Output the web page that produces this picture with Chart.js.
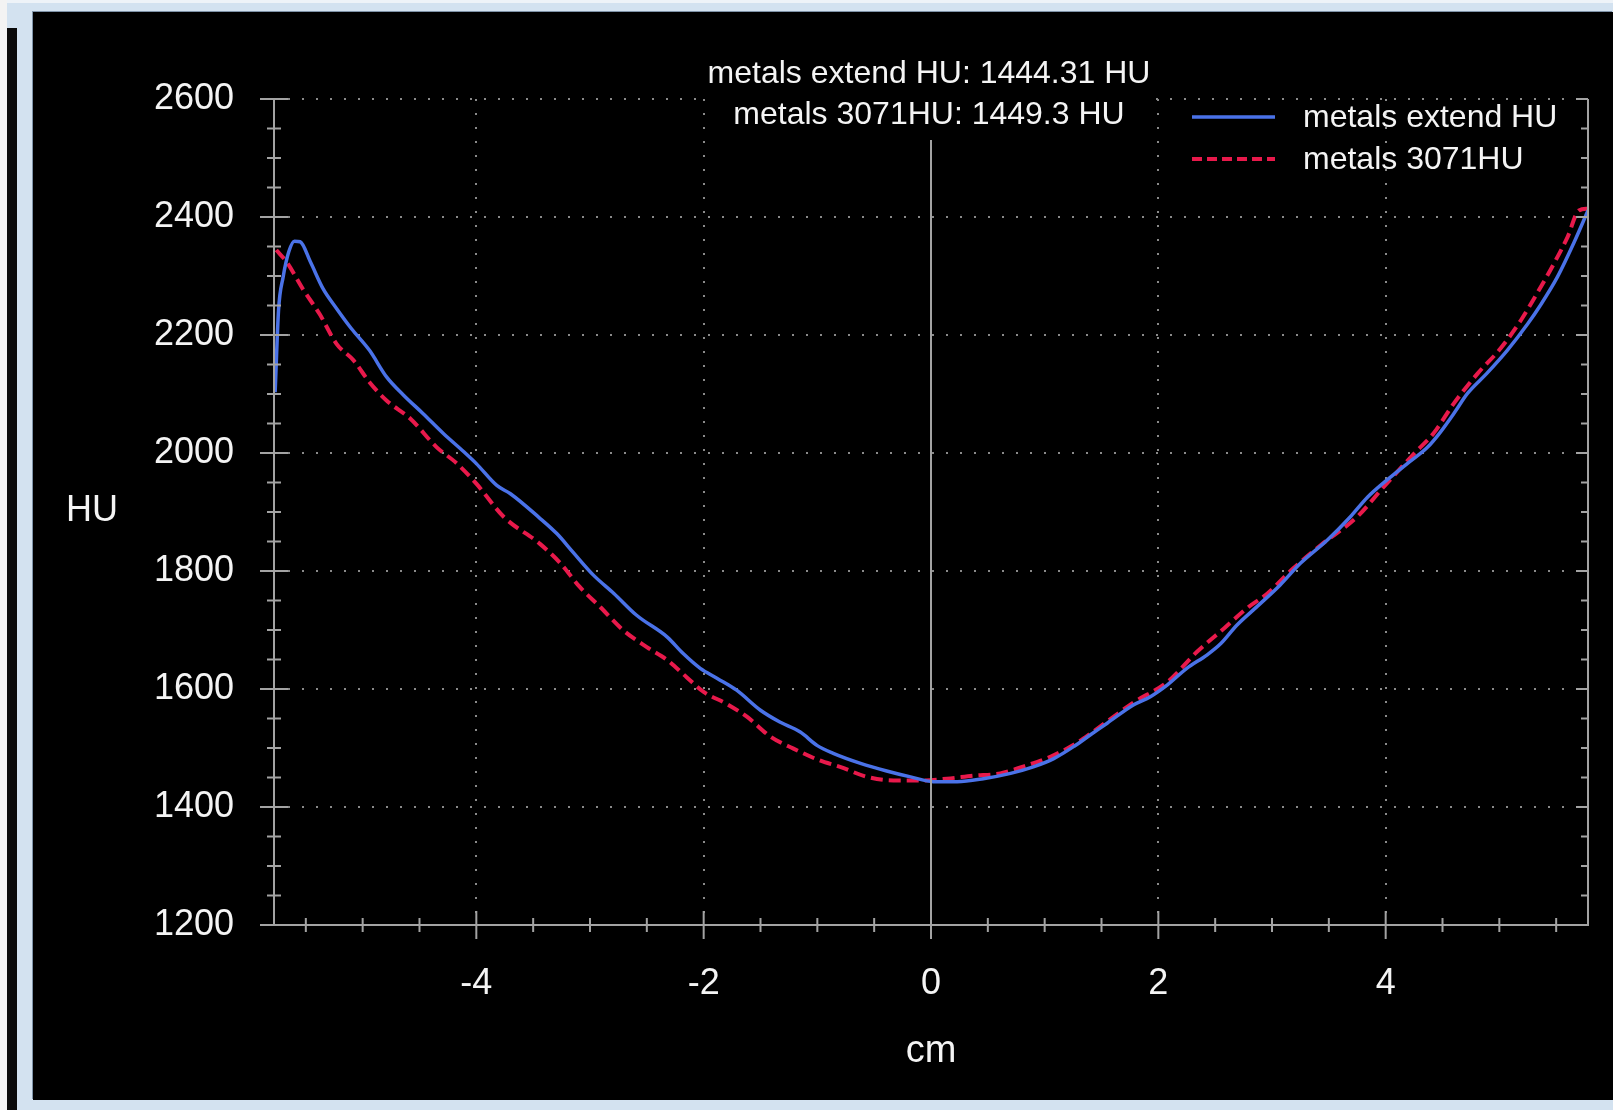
<!DOCTYPE html>
<html><head><meta charset="utf-8">
<script src="https://cdn.jsdelivr.net/npm/chart.js@4.4.1/dist/chart.umd.min.js"></script>
<style>
html,body{margin:0;padding:0;width:1613px;height:1110px;overflow:hidden;background:#d3e2f0;}
.blk{position:absolute;}
#c{position:absolute;left:0;top:0;}
</style></head><body>
<div class="blk" style="left:0;top:0;width:1613px;height:3px;background:#eef3f8"></div>
<div class="blk" style="left:0;top:0;width:7px;height:1110px;background:#f3f3f3"></div>
<div class="blk" style="left:7px;top:28px;width:10px;height:1082px;background:#0a0a0a"></div>
<div class="blk" style="left:33px;top:12px;width:1580px;height:1088px;background:#000;box-shadow:-1px -1px 0 #7f93a8"></div>
<canvas id="c" width="1613" height="1110"></canvas>
<script>
// ---- data ----
const seriesNames = ['metals extend HU', 'metals 3071HU'];
const annotationLines = ['metals extend HU: 1444.31 HU', 'metals 3071HU: 1449.3 HU'];
const xTitle = 'cm';
const yTitle = 'HU';
const xTickValues = [-4, -2, 0, 2, 4];
const yTickValues = [1200, 1400, 1600, 1800, 2000, 2200, 2400, 2600];
const xRange = [-5.78, 5.78];
const yRange = [1200, 2600];

const extendX = [-5.77, -5.74, -5.70, -5.65, -5.60, -5.55, -5.46, -5.35, -5.23, -5.10, -4.94, -4.79, -4.64, -4.47, -4.29, -4.11, -4.00, -3.82, -3.70, -3.45, -3.29, -3.15, -2.97, -2.79, -2.59, -2.32, -2.18, -2.03, -1.88, -1.71, -1.50, -1.33, -1.15, -1.00, -0.86, -0.62, -0.39, -0.18, 0.02, 0.23, 0.46, 0.70, 0.90, 1.08, 1.26, 1.40, 1.55, 1.78, 1.93, 2.08, 2.25, 2.43, 2.55, 2.69, 2.87, 3.07, 3.25, 3.49, 3.69, 3.84, 4.01, 4.19, 4.37, 4.48, 4.60, 4.72, 4.89, 5.07, 5.25, 5.36, 5.51, 5.66, 5.78];
const extendHU = [2103, 2242, 2298, 2341, 2359, 2358, 2324, 2279, 2245, 2211, 2174, 2129, 2098, 2067, 2033, 2002, 1982, 1945, 1931, 1891, 1863, 1832, 1793, 1762, 1725, 1688, 1660, 1635, 1618, 1598, 1564, 1544, 1527, 1504, 1491, 1474, 1461, 1451, 1443, 1443, 1448, 1457, 1468, 1482, 1503, 1522, 1542, 1573, 1587, 1607, 1635, 1658, 1677, 1708, 1740, 1776, 1813, 1853, 1892, 1925, 1954, 1982, 2010, 2035, 2067, 2101, 2135, 2174, 2219, 2250, 2298, 2358, 2411];

const fixedX = [-5.76, -5.67, -5.52, -5.38, -5.23, -5.08, -4.94, -4.79, -4.58, -4.35, -4.17, -4.00, -3.76, -3.44, -3.26, -3.09, -2.91, -2.71, -2.50, -2.32, -2.15, -2.00, -1.80, -1.62, -1.41, -1.21, -0.98, -0.80, -0.56, -0.33, -0.09, 0.14, 0.37, 0.61, 0.85, 1.05, 1.26, 1.40, 1.55, 1.78, 2.08, 2.34, 2.58, 2.78, 2.96, 3.19, 3.43, 3.75, 3.98, 4.25, 4.42, 4.60, 4.81, 5.01, 5.19, 5.33, 5.48, 5.60, 5.70, 5.78];
const fixedHU = [2344, 2324, 2276, 2236, 2185, 2157, 2120, 2089, 2058, 2010, 1982, 1948, 1892, 1846, 1813, 1773, 1739, 1700, 1671, 1649, 1620, 1595, 1575, 1553, 1519, 1499, 1479, 1468, 1451, 1445, 1445, 1448, 1453, 1457, 1471, 1485, 1506, 1524, 1545, 1577, 1612, 1663, 1703, 1737, 1762, 1805, 1844, 1892, 1942, 1999, 2033, 2084, 2135, 2177, 2225, 2270, 2321, 2366, 2411, 2414];

// ---- styles ----
const FONT = '"Liberation Sans", Arial, sans-serif';
const BLUE = '#4a72e8';
const RED = '#e8194b';
const AXIS = '#a3a3a3';
const GRID = '#8a8a8a';
const TEXT = '#f4f4f4';

function seg(ctx, x1, y1, x2, y2) { ctx.beginPath(); ctx.moveTo(x1, y1); ctx.lineTo(x2, y2); ctx.stroke(); }

const overlay = {
  id: 'overlay',
  afterDatasetsDraw(chart) {
    const {ctx, chartArea: a, scales: {x, y}} = chart;
    const x0 = x.getPixelForValue(0);
    ctx.save();
    // annotation box + text
    ctx.font = '32px ' + FONT;
    ctx.textAlign = 'center';
    ctx.textBaseline = 'middle';
    const w = Math.max(...annotationLines.map(t => ctx.measureText(t).width));
    ctx.fillStyle = '#000';
    ctx.fillRect(x0 - w / 2 - 2, a.top - 47, w + 4, 86);
    ctx.fillStyle = TEXT;
    ctx.fillText(annotationLines[0], x0 - 2, a.top - 25);
    ctx.fillText(annotationLines[1], x0 - 2, a.top + 16);

    // axes frame
    ctx.strokeStyle = AXIS; ctx.lineWidth = 2; ctx.setLineDash([]);
    ctx.beginPath();
    ctx.moveTo(a.left, a.top); ctx.lineTo(a.left, a.bottom); ctx.lineTo(a.right, a.bottom); ctx.lineTo(a.right, a.top);
    ctx.stroke();
    // zero line
    seg(ctx, x0, a.top + 41, x0, a.bottom);
    // y ticks (major and minor crossing the left axis; inward on the right)
    for (let v = yRange[0]; v <= yRange[1]; v += 50) {
      const major = yTickValues.includes(v);
      const py = y.getPixelForValue(v);
      const h = major ? 14 : 7;
      seg(ctx, a.left - h, py, a.left + h, py);
      seg(ctx, a.right - (major ? 12 : 7), py, a.right, py);
    }
    // x ticks
    for (let i = -11; i <= 11; i++) {
      const v = i * 0.5;
      const major = xTickValues.includes(v);
      const px = x.getPixelForValue(v);
      const h = major ? 14 : 7;
      seg(ctx, px, a.bottom - h, px, a.bottom + h);
    }

    // legend
    const lx0 = a.right - 396, lx1 = a.right - 313, tx = a.right - 285;
    const r0 = a.top + 18, r1 = a.top + 60;
    ctx.strokeStyle = BLUE; ctx.lineWidth = 3.5; ctx.setLineDash([]);
    seg(ctx, lx0, r0, lx1, r0);
    ctx.strokeStyle = RED; ctx.lineWidth = 4; ctx.setLineDash([10, 5]);
    seg(ctx, lx0, r1, lx1, r1);
    ctx.setLineDash([]);
    ctx.fillStyle = TEXT;
    ctx.textAlign = 'left';
    ctx.fillText(seriesNames[0], tx, r0 + 1);
    ctx.fillText(seriesNames[1], tx, r1 + 1);

    // y title (horizontal)
    ctx.font = '36px ' + FONT;
    ctx.textAlign = 'center';
    ctx.fillText(yTitle, a.left - 182, (a.top + a.bottom) / 2 - 1);
    ctx.restore();
  }
};

new Chart(document.getElementById('c'), {
  type: 'line',
  data: {
    datasets: [
      { label: seriesNames[0], data: extendX.map((v, i) => ({x: v, y: extendHU[i]})),
        borderColor: BLUE, borderWidth: 3.5, pointRadius: 0, fill: false, cubicInterpolationMode: 'monotone' },
      { label: seriesNames[1], data: fixedX.map((v, i) => ({x: v, y: fixedHU[i]})),
        borderColor: RED, borderWidth: 4, borderDash: [12, 6], pointRadius: 0, fill: false, cubicInterpolationMode: 'monotone' }
    ]
  },
  options: {
    responsive: false, animation: false, devicePixelRatio: 1,
    layout: { padding: { left: 0, right: 25, top: 99, bottom: 0 } },
    plugins: { legend: { display: false }, tooltip: { enabled: false } },
    scales: {
      x: {
        type: 'linear', min: xRange[0], max: xRange[1],
        afterBuildTicks: s => { s.ticks = xTickValues.map(v => ({value: v})); },
        afterFit: s => { s.height = 185; },
        grid: { color: c => (c.tick && c.tick.value === 0) ? 'rgba(0,0,0,0)' : GRID, lineWidth: 2, drawTicks: false },
        border: { display: false, dash: [2, 12] },
        ticks: { color: TEXT, font: { family: FONT, size: 36 }, padding: 37, maxRotation: 0, autoSkip: false,
                 callback: v => String(v) },
        title: { display: true, text: xTitle, color: TEXT, font: { family: FONT, size: 38 }, padding: { top: 0, bottom: 36 } }
      },
      y: {
        type: 'linear', min: yRange[0], max: yRange[1],
        afterBuildTicks: s => { s.ticks = yTickValues.map(v => ({value: v})); },
        afterFit: s => { s.width = 274; },
        grid: { color: c => (c.tick && c.tick.value === yRange[0]) ? 'rgba(0,0,0,0)' : GRID, lineWidth: 2, drawTicks: false },
        border: { display: false, dash: [2, 12] },
        ticks: { color: TEXT, font: { family: FONT, size: 36 }, padding: 40, autoSkip: false,
                 callback: v => String(v) }
      }
    }
  },
  plugins: [overlay]
});
</script>
</body></html>
